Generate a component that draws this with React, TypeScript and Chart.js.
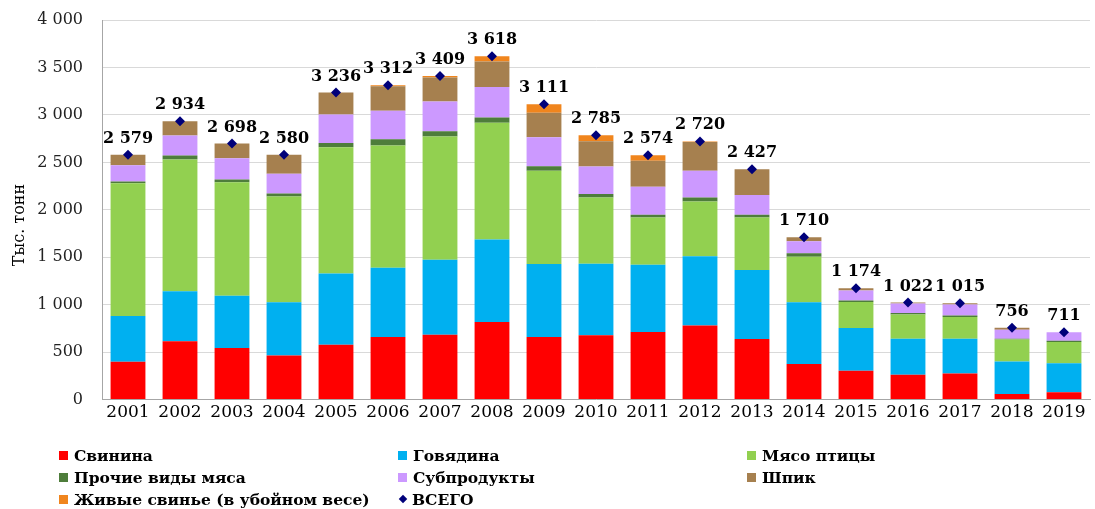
import React, { useEffect, useRef } from "react";
import { Chart, registerables } from "chart.js";

Chart.register(...registerables);

const years = ["2001", "2002", "2003", "2004", "2005", "2006", "2007", "2008", "2009", "2010", "2011", "2012", "2013", "2014", "2015", "2016", "2017", "2018", "2019"];
const pork = [400, 614, 543, 466, 578, 659, 684, 818, 659, 677, 712, 780, 638, 374, 303, 261, 275, 60, 77];
const beef = [480, 529, 550, 560, 752, 730, 790, 868, 769, 755, 709, 730, 727, 652, 451, 381, 367, 342, 307];
const poultry = [1400, 1386, 1196, 1115, 1329, 1288, 1298, 1231, 984, 698, 497, 578, 553, 480, 275, 254, 229, 230, 222];
const otherMeat = [18, 42, 31, 32, 46, 67, 56, 56, 46, 36, 29, 42, 29, 35, 15, 17, 14, 10, 15];
const offal = [172, 212, 223, 208, 300, 300, 314, 321, 307, 289, 296, 282, 208, 127, 106, 99, 117, 95, 88];
const fat = [109, 151, 155, 199, 231, 258, 253, 268, 258, 267, 275, 303, 272, 42, 24, 10, 13, 19, 2];
const livePigs = [0, 0, 0, 0, 0, 10, 14, 56, 88, 63, 56, 5, 0, 0, 0, 0, 0, 0, 0];
const totals = [2579, 2934, 2698, 2580, 3236, 3312, 3409, 3618, 3111, 2785, 2574, 2720, 2427, 1710, 1174, 1022, 1015, 756, 711];

const seriesNames = ["Свинина", "Говядина", "Мясо птицы", "Прочие виды мяса", "Субпродукты", "Шпик", "Живые свинье (в убойном весе)"];
const seriesColors = ["#FF0000", "#00B0F0", "#92D050", "#4E7D3B", "#CC99FF", "#A6804F", "#F0851D"];
const totalName = "ВСЕГО";
const totalColor = "#00007A";
const yAxisTitle = "Тыс. тонн";

const fmt = (v: number) => String(Math.round(v)).replace(/\B(?=(\d{3})+(?!\d))/g, " ");
const FONT = "'DejaVu Serif', serif";

const labelPlugin = {
  id: "totalsLabels",
  afterDatasetsDraw(chart: any) {
    const ctx = chart.ctx;
    const idx = chart.data.datasets.length - 1;
    const meta = chart.getDatasetMeta(idx);
    ctx.save();
    ctx.font = `bold 16px ${FONT}`;
    ctx.fillStyle = "#000";
    ctx.textAlign = "center";
    ctx.textBaseline = "alphabetic";
    meta.data.forEach((pt: any, i: number) => {
      ctx.fillText(fmt(totals[i]), pt.x, pt.y - 12);
    });
    ctx.translate(20, 225);
    ctx.rotate(-Math.PI / 2);
    ctx.font = `16px ${FONT}`;
    ctx.textBaseline = "middle";
    ctx.fillText(yAxisTitle, 0, 0);
    ctx.restore();
  },
};

export default function App() {
  const ref = useRef<HTMLCanvasElement | null>(null);
  useEffect(() => {
    document.body.style.margin = "0";
    const series = [pork, beef, poultry, otherMeat, offal, fat, livePigs];
    const chart = new Chart(ref.current as HTMLCanvasElement, {
      type: "bar",
      data: {
        labels: years,
        datasets: [
          ...series.map((d, i) => ({
            type: "bar" as const,
            label: seriesNames[i],
            data: d,
            backgroundColor: seriesColors[i],
            borderWidth: 0,
            stack: "meat",
            order: 1,
            barPercentage: 0.67,
            categoryPercentage: 1,
          })),
          {
            type: "line" as const,
            label: totalName,
            data: totals,
            showLine: false,
            pointStyle: "rectRot",
            pointRadius: 5,
            backgroundColor: totalColor,
            borderColor: totalColor,
            borderWidth: 0,
            stack: "total",
            order: 0,
          } as any,
        ],
      },
      options: {
        animation: false,
        responsive: false,
        maintainAspectRatio: false,
        layout: { padding: { top: 20, right: 0, left: 0, bottom: 83 } },
        plugins: { legend: { display: false }, tooltip: { enabled: false } },
        scales: {
          x: {
            stacked: true,
            grid: { display: false, drawTicks: false },
            border: { display: true, color: "#A6A6A6", width: 1 },
            ticks: { color: "#000", font: { family: FONT, size: 17 }, padding: 3, maxRotation: 0, autoSkip: false },
          },
          y: {
            stacked: true,
            min: 0,
            max: 4000,
            afterFit: (s: any) => {
              s.width = 102;
            },
            grid: { color: "#D9D9D9", drawTicks: true, tickLength: 17, tickColor: "rgba(0,0,0,0)" },
            border: { display: true, color: "#A6A6A6", width: 1 },
            ticks: { stepSize: 500, color: "#222", font: { family: FONT, size: 16 }, padding: 2, callback: (v: any) => fmt(Number(v)) },
          },
        },
      },
      plugins: [labelPlugin],
    } as any);
    return () => chart.destroy();
  }, []);

  const legendItems = [
    ...seriesNames.map((n, i) => ({ name: n, color: seriesColors[i], diamond: false })),
    { name: totalName, color: totalColor, diamond: true },
  ];
  const colX = [59, 398, 747];
  const rowY = [444, 466, 488];

  return (
    <div style={{ position: "relative", width: 1095, height: 509, overflow: "hidden", background: "#fff" }}>
      <canvas ref={ref} width={1095} height={509} style={{ position: "absolute", left: 0, top: 0, width: 1095, height: 509 }} />
      {legendItems.map((it, i) => {
        const col = i % 3;
        const row = Math.floor(i / 3);
        return (
          <div
            key={it.name}
            style={{
              position: "absolute",
              left: colX[col],
              top: rowY[row],
              height: 22,
              display: "flex",
              alignItems: "center",
              fontFamily: FONT,
              fontWeight: "bold",
              fontSize: 15.5,
              color: "#000",
              whiteSpace: "nowrap",
            }}
          >
            <span
              style={{
                display: "inline-block",
                width: it.diamond ? 6 : 9,
                height: it.diamond ? 6 : 9,
                background: it.color,
                transform: it.diamond ? "rotate(45deg)" : undefined,
                marginLeft: it.diamond ? 2 : 0,
                marginRight: it.diamond ? 6 : 6,
              }}
            />
            <span>{it.name}</span>
          </div>
        );
      })}
    </div>
  );
}
